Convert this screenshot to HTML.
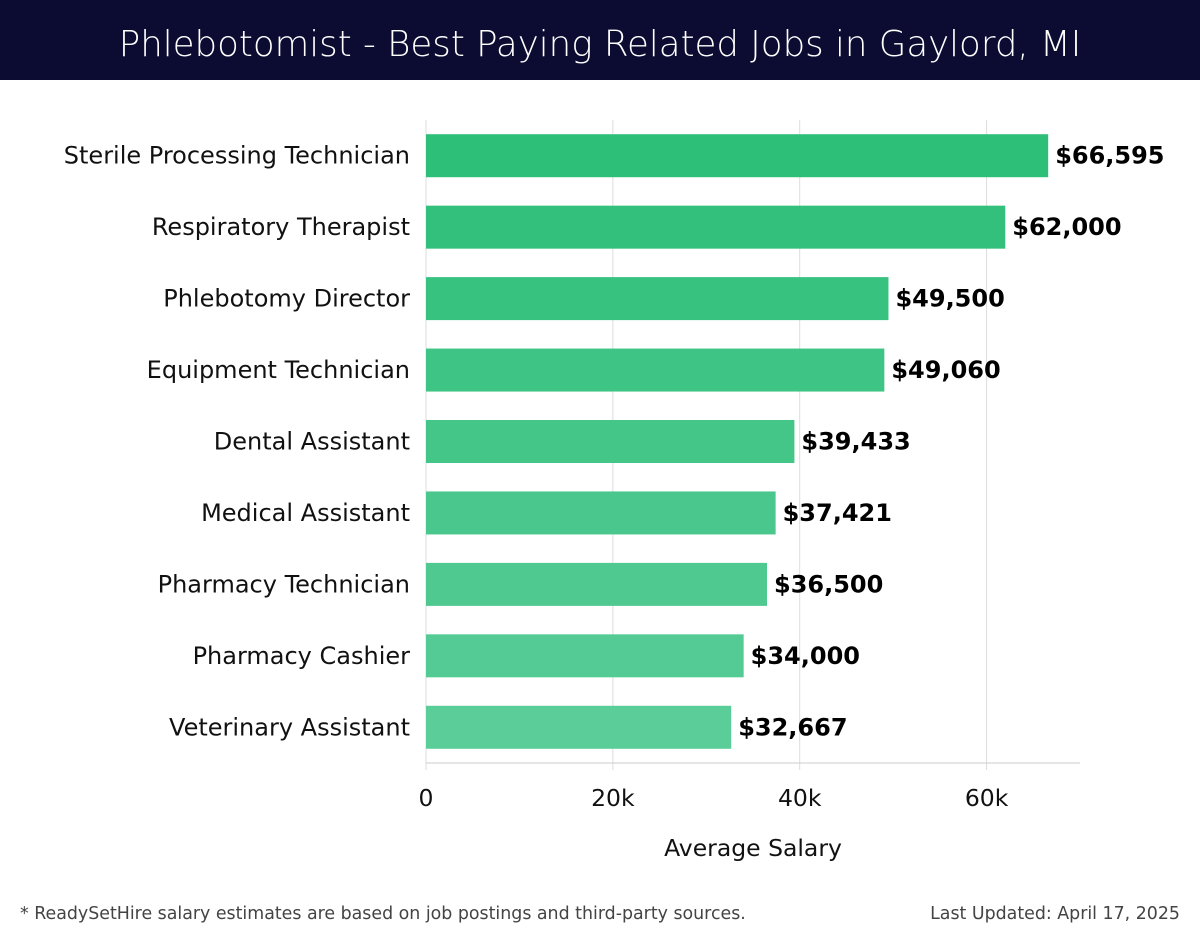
<!DOCTYPE html>
<html><head><meta charset="utf-8"><style>
body{margin:0;width:1200px;height:940px;background:#fff;font-family:"DejaVu Sans","Liberation Sans",sans-serif;overflow:hidden}
svg{display:block}
</style></head><body>
<svg id="chart" width="1200" height="940">
<rect x="0" y="0" width="1200" height="80" fill="#0c0c33"/>
<text x="600" y="56" text-anchor="middle" fill="#fff" font-size="35.6" font-family="'DejaVu Sans',sans-serif" font-weight="300">Phlebotomist - Best Paying Related Jobs in Gaylord, MI</text>
<g id="grid"></g><g id="bars"></g><g id="axis"></g>
<text x="753" y="856" text-anchor="middle" font-size="23.5" fill="#111">Average Salary</text>
<text x="20" y="919" font-size="17.4" fill="#444">* ReadySetHire salary estimates are based on job postings and third-party sources.</text>
<text x="1180" y="919" text-anchor="end" font-size="17.4" fill="#444">Last Updated: April 17, 2025</text>
</svg>
<script>
const categories=["Sterile Processing Technician","Respiratory Therapist","Phlebotomy Director","Equipment Technician","Dental Assistant","Medical Assistant","Pharmacy Technician","Pharmacy Cashier","Veterinary Assistant"];
const values=[66595,62000,49500,49060,39433,37421,36500,34000,32667];
const labels=["$66,595","$62,000","$49,500","$49,060","$39,433","$37,421","$36,500","$34,000","$32,667"];
const ticks=[0,20000,40000,60000];
const tickLabels=["0","20k","40k","60k"];
const NS="http://www.w3.org/2000/svg";
const X0=426,X1=1080,XMAX=70000,PTOP=120,PBOT=763;
const xs=v=>X0+v/XMAX*(X1-X0);
const band=(PBOT-PTOP)/categories.length;
const yc=i=>PTOP+band*(i+0.5);
function mk(t,a,p){const e=document.createElementNS(NS,t);for(const k in a)e.setAttribute(k,a[k]);p.appendChild(e);return e;}
const g=document.getElementById('grid'),b=document.getElementById('bars'),ax=document.getElementById('axis');
ticks.forEach((t,i)=>{
  const l=mk('line',{x1:xs(t),x2:xs(t),y1:PTOP,y2:PBOT+7,stroke:'#ddd','stroke-width':1},g);
  
  
  const tx=mk('text',{x:xs(t),y:806,'text-anchor':'middle','font-size':23.5,fill:'#111'},ax);
  tx.textContent=tickLabels[i];
  
  
});
const al=mk('line',{x1:X0,x2:X1,y1:PBOT,y2:PBOT,stroke:'#ccc','stroke-width':1},ax);


const c0=[45,190,120],c1=[90,205,152];
categories.forEach((c,i)=>{
  const f=i/(categories.length-1);
  const col=`rgb(${c0.map((v,k)=>Math.round(v+(c1[k]-v)*f)).join(',')})`;
  const r=mk('rect',{x:X0,y:yc(i)-21.5,width:xs(values[i])-X0,height:43,fill:col},b);
  
  
  const lt=mk('text',{x:410,y:yc(i)+8,'text-anchor':'end','font-size':24,fill:'#111'},b);
  lt.textContent=c;
  
  
  const vt=mk('text',{x:xs(values[i])+7,y:yc(i)+8,'font-size':24,'font-weight':'bold',fill:'#000'},b);
  vt.textContent=labels[i];
  
  
});
</script>
</body></html>
